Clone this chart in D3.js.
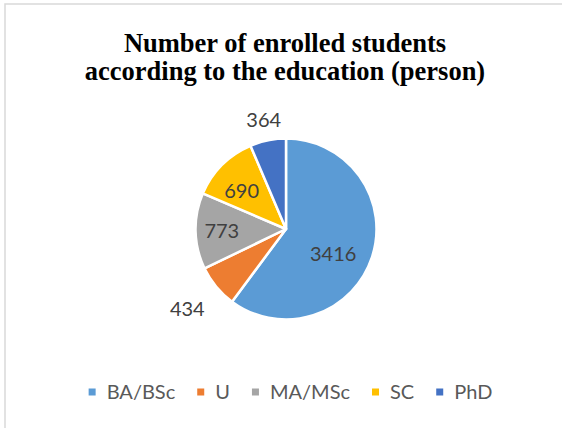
<!DOCTYPE html>
<html><head><meta charset="utf-8">
<script src="https://cdn.jsdelivr.net/npm/d3@7/dist/d3.min.js"></script>
<style>body{margin:0;background:#fff}svg{display:block}</style>
</head><body>
<svg id="c" width="562" height="428"></svg>
<script>
const categories = ["BA/BSc", "U", "MA/MSc", "SC", "PhD"];
const values = [3416, 434, 773, 690, 364];
const colors = ["#5B9BD5", "#ED7D31", "#A5A5A5", "#FFC000", "#4472C4"];
const titleLines = ["Number of enrolled students", "according to the education (person)"];

// label placement (relative radius factor and angle shift in degrees)
const labelPlace = {
  "BA/BSc": {r: 0.59, da: 9.5},
  "U": {r: 1.40, da: 0.8},
  "MA/MSc": {r: 0.71, da: -0.6},
  "SC": {r: 0.65, da: -4},
  "PhD": {r: 1.23, da: 0}
};

const svg = d3.select("#c");
svg.append("rect").attr("x", 5).attr("y", 4).attr("width", 700).attr("height", 600)
  .attr("fill", "#fff").attr("stroke", "#d9d9d9").attr("stroke-width", 1.5);

const title = svg.append("text").attr("text-anchor", "middle")
  .attr("font-family", "'Liberation Serif','Times New Roman',serif")
  .attr("font-weight", "bold").attr("font-size", 26.5).attr("fill", "#000");
titleLines.forEach((t, i) => title.append("tspan").attr("x", 285).attr("y", 52 + i * 28).text(t));

const cx = 286, cy = 229, R = 90.5;
const pie = d3.pie().sort(null).value(d => d.v);
const data = pie(categories.map((c, i) => ({c, v: values[i], col: colors[i]})));
const arc = d3.arc().innerRadius(0).outerRadius(R);
const g = svg.append("g").attr("transform", `translate(${cx},${cy})`);
g.selectAll("path").data(data).join("path")
  .attr("d", arc).attr("fill", d => d.data.col)
  .attr("stroke", "#fff").attr("stroke-width", 2.5).attr("stroke-linejoin", "round");

g.selectAll("text.lbl").data(data).join("text").attr("class", "lbl")
  .attr("text-anchor", "middle").attr("dy", "0.36em")
  .attr("font-family", "Lato, 'Open Sans', sans-serif").attr("font-size", 20).attr("fill", "#404040")
  .attr("x", d => { const p = labelPlace[d.data.c]; const a = (d.startAngle + d.endAngle) / 2 + p.da * Math.PI / 180; return Math.sin(a) * p.r * R; })
  .attr("y", d => { const p = labelPlace[d.data.c]; const a = (d.startAngle + d.endAngle) / 2 + p.da * Math.PI / 180; return -Math.cos(a) * p.r * R; })
  .text(d => d.data.v);

// legend
const leg = svg.append("g");
let x = 0;
categories.forEach((c, i) => {
  leg.append("rect").attr("x", x).attr("y", -3.5).attr("width", 7).attr("height", 7).attr("fill", colors[i]);
  const t = leg.append("text").attr("x", x + 18).attr("y", 0).attr("dy", "0.36em")
    .attr("font-family", "Lato, 'Open Sans', sans-serif").attr("font-size", 20).attr("fill", "#595959").text(c);
  x += 18 + t.node().getComputedTextLength() + 22;
});
const legW = x - 22;
leg.attr("transform", `translate(${290.5 - legW / 2},392)`);
</script>
</body></html>
